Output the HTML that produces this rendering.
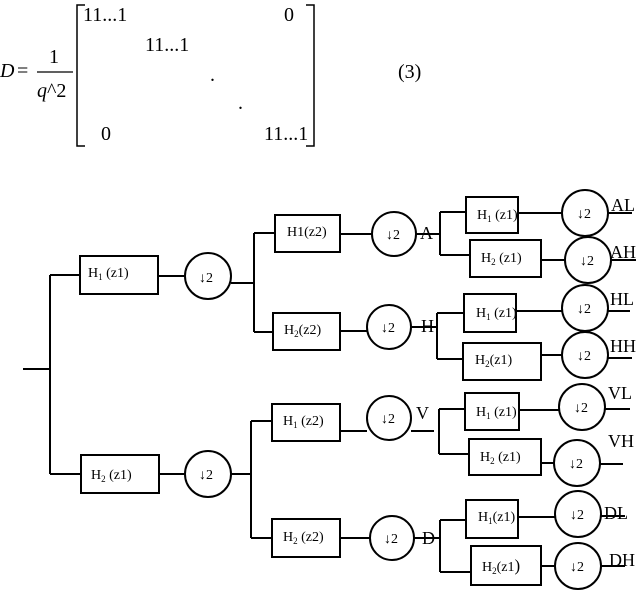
<!DOCTYPE html>
<html><head><meta charset="utf-8"><style>
html,body{margin:0;padding:0;background:#fff;}
svg{display:block;}
text{font-family:"Liberation Serif",serif;fill:#000;}
</style></head><body>
<svg width="640" height="590" viewBox="0 0 640 590" xmlns="http://www.w3.org/2000/svg">
<!-- Equation -->
<text x="0" y="77" font-size="20" font-style="italic">D</text>
<text x="17" y="77" font-size="20">=</text>
<text x="49" y="63" font-size="20">1</text>
<line x1="37" y1="72" x2="73" y2="72" stroke="#000" stroke-width="1.2"/>
<text x="37" y="97" font-size="20"><tspan font-style="italic">q</tspan>^2</text>
<path d="M85,5 H77 V146 H85" fill="none" stroke="#000" stroke-width="1.5"/>
<path d="M306,5 H314 V146 H306" fill="none" stroke="#000" stroke-width="1.5"/>
<g font-size="20">
<text x="83" y="21">11...1</text>
<text x="284" y="21">0</text>
<text x="145" y="51">11...1</text>
<text x="210" y="81">.</text>
<text x="238" y="109">.</text>
<text x="101" y="140">0</text>
<text x="264" y="140">11...1</text>
<text x="398" y="78">(3)</text>
</g>
<g fill="none" stroke="#000" stroke-width="2">
<path d="M23,369 H50 M50,275 V474 M50,275 H80 M50,474 H82"/>
<rect x="80" y="256" width="78" height="38"/>
<rect x="81" y="455" width="78" height="38"/>
<circle cx="208" cy="276" r="23"/>
<circle cx="208" cy="474" r="23"/>
<path d="M158,276 H185 M159,474 H185 M231,283 H254 M254,233 V332 M254,233 H275 M254,332 H273 M231,474 H251 M251,474 V538 M251,421 V474 M251,421 H272 M251,538 H272"/>
<rect x="275" y="215" width="65" height="37"/>
<rect x="273" y="313" width="67" height="37"/>
<rect x="272" y="404" width="68" height="37"/>
<rect x="272" y="519" width="68" height="38"/>
<circle cx="394" cy="234" r="22"/>
<circle cx="389" cy="327" r="22"/>
<circle cx="389" cy="418" r="22"/>
<circle cx="392" cy="538" r="22"/>
<path d="M340,234 H372 M340,331 H367 M340,431 H367 M340,538 H370"/>
<path d="M416,234 H440 M440,212 V255 M440,212 H466 M440,255 H470"/>
<path d="M411,327 H437 M437,313 V359 M437,313 H464 M437,359 H463"/>
<path d="M411,431 H434 M439,409 V454 M439,409 H465 M439,454 H469"/>
<path d="M414,538 H440 M440,520 V572 M440,520 H466 M440,572 H471"/>
<rect x="466" y="197" width="52" height="36"/>
<rect x="470" y="240" width="71" height="37"/>
<rect x="464" y="294" width="52" height="38"/>
<rect x="463" y="343" width="78" height="37"/>
<rect x="465" y="393" width="54" height="37"/>
<rect x="469" y="439" width="72" height="36"/>
<rect x="466" y="500" width="52" height="38"/>
<rect x="471" y="546" width="70" height="39"/>
<circle cx="585" cy="213" r="23"/>
<circle cx="588" cy="260" r="23"/>
<circle cx="585" cy="308" r="23"/>
<circle cx="585" cy="355" r="23"/>
<circle cx="582" cy="407" r="23"/>
<circle cx="577" cy="463" r="23"/>
<circle cx="578" cy="514" r="23"/>
<circle cx="578" cy="566" r="23"/>
<path d="M518,213 H562 M541,260 H565 M516,311 H562 M541,355 H562 M519,410 H559 M541,463 H554 M518,517 H555 M541,566 H555"/>
<path d="M608,213 H632 M611,260 H636 M608,311 H630 M608,358 H632 M605,409 H630 M600,464 H623 M601,516 H625 M601,566 H625"/>
</g>
<g font-size="14">
<text x="88" y="277">H<tspan font-size="9" dy="3">1</tspan><tspan dy="-3"> (z1)</tspan></text>
<text x="91" y="479">H<tspan font-size="9" dy="3">2</tspan><tspan dy="-3"> (z1)</tspan></text>
<text x="287" y="236">H1(z2)</text>
<text x="284" y="334">H<tspan font-size="9" dy="3">2</tspan><tspan dy="-3">(z2)</tspan></text>
<text x="283" y="425">H<tspan font-size="9" dy="3">1</tspan><tspan dy="-3"> (z2)</tspan></text>
<text x="283" y="541">H<tspan font-size="9" dy="3">2</tspan><tspan dy="-3"> (z2)</tspan></text>
<text x="477" y="219">H<tspan font-size="9" dy="3">1</tspan><tspan dy="-3"> (z1)</tspan></text>
<text x="481" y="262">H<tspan font-size="9" dy="3">2</tspan><tspan dy="-3"> (z1)</tspan></text>
<text x="476" y="317">H<tspan font-size="9" dy="3">1</tspan><tspan dy="-3"> (z1)</tspan></text>
<text x="475" y="364">H<tspan font-size="9" dy="3">2</tspan><tspan dy="-3">(z1)</tspan></text>
<text x="476" y="416">H<tspan font-size="9" dy="3">1</tspan><tspan dy="-3"> (z1)</tspan></text>
<text x="480" y="461">H<tspan font-size="9" dy="3">2</tspan><tspan dy="-3"> (z1)</tspan></text>
<text x="478" y="521">H<tspan font-size="9" dy="3">1</tspan><tspan dy="-3">(z1)</tspan></text>
<text x="482" y="571">H<tspan font-size="9" dy="3">2</tspan><tspan dy="-3">(z1</tspan><tspan font-size="17">)</tspan></text>
</g>
<g font-size="14">
<text x="199" y="282">↓2</text>
<text x="199" y="479">↓2</text>
<text x="386" y="239">↓2</text>
<text x="381" y="332">↓2</text>
<text x="381" y="423">↓2</text>
<text x="384" y="543">↓2</text>
<text x="577" y="218">↓2</text>
<text x="580" y="265">↓2</text>
<text x="577" y="313">↓2</text>
<text x="577" y="360">↓2</text>
<text x="574" y="412">↓2</text>
<text x="569" y="468">↓2</text>
<text x="570" y="519">↓2</text>
<text x="570" y="571">↓2</text>
</g>
<g font-size="18">
<text x="420" y="239">A</text>
<text x="421" y="332">H</text>
<text x="416" y="419">V</text>
<text x="422" y="544">D</text>
<text x="611" y="211">AL</text>
<text x="610" y="258">AH</text>
<text x="610" y="305">HL</text>
<text x="610" y="352">HH</text>
<text x="608" y="399">VL</text>
<text x="608" y="447">VH</text>
<text x="604" y="519">DL</text>
<text x="609" y="566">DH</text>
</g>
</svg>
</body></html>
